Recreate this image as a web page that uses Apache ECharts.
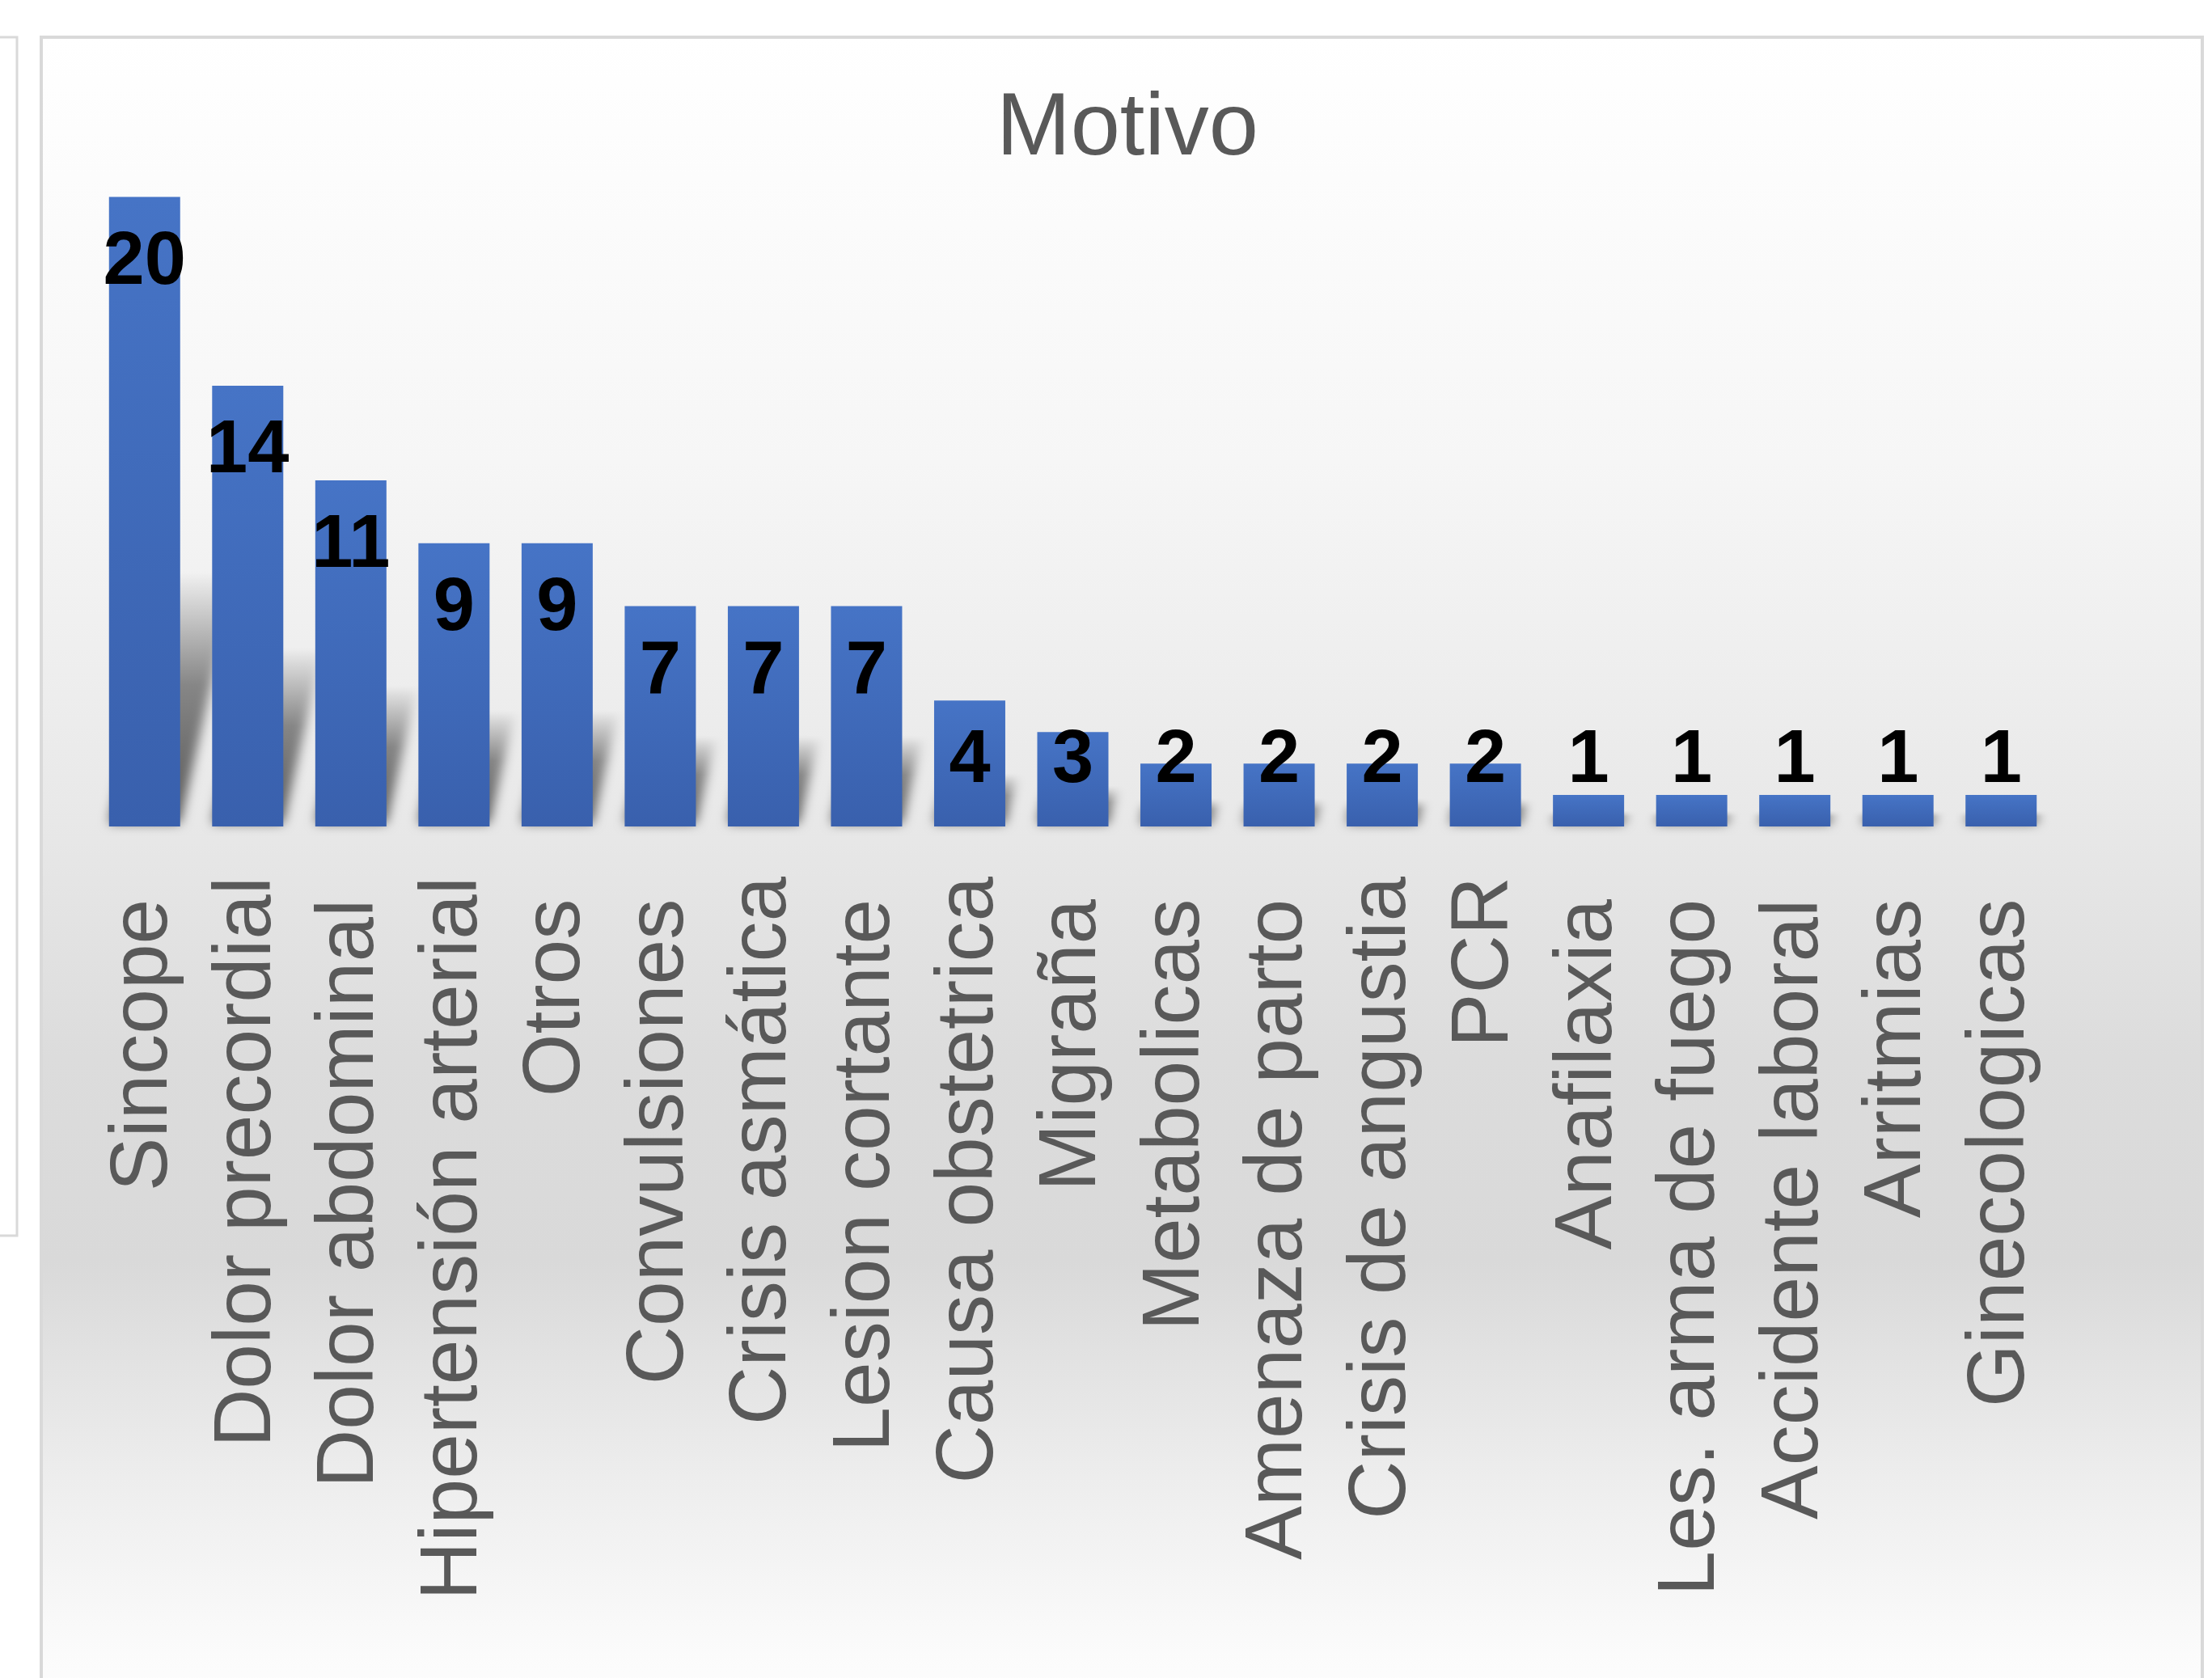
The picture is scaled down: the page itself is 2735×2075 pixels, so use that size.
<!DOCTYPE html>
<html>
<head>
<meta charset="utf-8">
<script src="https://cdn.jsdelivr.net/npm/echarts@6/dist/echarts.min.js"></script>
<style>
  html, body { margin: 0; padding: 0; background: #ffffff; }
  #chart { width: 2735px; height: 2075px; }
</style>
</head>
<body>
<div id="chart"></div>
<script>
// ---- Data ----
const chartTitle = "Motivo";
// Trailing spaces are kept as in the source categories (they shift the rotated labels).
const categories = [
  "Sincope ", "Dolor precordial", "Dolor abdominal ", "Hipertensión arterial", "Otros ",
  "Convulsiones ", "Crisis asmática", "Lesion cortante ", "Causa obstetrica", "Migraña ",
  "Metabolicas ", "Amenaza de parto ", "Crisis de angustia", "PCR", "Anafilaxia ",
  "Les. arma de fuego ", "Accidente laboral ", "Arritmias ", "Ginecologicas "
];
const counts = [20, 14, 11, 9, 9, 7, 7, 7, 4, 3, 2, 2, 2, 2, 1, 1, 1, 1, 1];
const yMin = 0;
const yMax = 20;

// ---- Styles ----
const textFont = "'Liberation Sans', Arial, sans-serif";
const barGradient = new echarts.graphic.LinearGradient(0, 0, 0, 1, [
  { offset: 0, color: '#4674c6' },
  { offset: 1, color: '#3960ad' }
]);
const panelGradient = new echarts.graphic.LinearGradient(0, 0, 0, 1, [
  { offset: 0.00, color: '#ffffff' },
  { offset: 0.25, color: '#f6f6f6' },
  { offset: 0.45, color: '#e9e9e9' },
  { offset: 0.60, color: '#dcdcdc' },
  { offset: 0.72, color: '#d9d9d9' },
  { offset: 0.84, color: '#ececec' },
  { offset: 0.95, color: '#fbfbfb' },
  { offset: 1.00, color: '#ffffff' }
]);
const SHADOW_SHIFT = 4000;

const barData = counts.map(v => (
  v <= 4
    ? { value: v, label: { position: 'insideBottom', distance: 34 } }
    : { value: v }
));
const shadowData = counts.map((v, i) => [i, v]);

const chart = echarts.init(document.getElementById('chart'), null, { renderer: 'canvas' });

chart.setOption({
  animation: false,
  backgroundColor: '#ffffff',
  graphic: [
    {
      type: 'rect', z: -10,
      shape: { x: -10, y: 46, width: 31, height: 1482 },
      style: { fill: '#ffffff', stroke: '#d9d9d9', lineWidth: 3 }
    },
    {
      type: 'rect', z: -10,
      shape: { x: 51, y: 46, width: 2672, height: 2100 },
      style: { fill: panelGradient, stroke: '#d9d9d9', lineWidth: 4 }
    }
  ],
  title: {
    text: chartTitle,
    left: 1389,
    top: 101,
    textAlign: 'center',
    textStyle: {
      fontFamily: textFont,
      fontWeight: 'normal',
      fontSize: 110,
      lineHeight: 110,
      color: '#595959'
    }
  },
  grid: { left: 115, right: 197, top: 243.6, bottom: 1053, containLabel: false },
  xAxis: {
    type: 'category',
    data: categories,
    axisLine: { show: false },
    axisTick: { show: false },
    splitLine: { show: false },
    axisLabel: {
      interval: 0,
      rotate: 90,
      margin: 62,
      padding: [12, 0, 0, 0],
      fontFamily: textFont,
      fontSize: 100,
      color: '#595959'
    }
  },
  yAxis: {
    type: 'value',
    min: yMin,
    max: yMax,
    show: false,
    splitLine: { show: false }
  },
  series: [
    {
      // soft skewed "floor" shadow behind each bar, derived from its value
      type: 'custom',
      z: 1,
      silent: true,
      clip: false,
      data: shadowData,
      renderItem: function (params, api) {
        const idx = api.value(0);
        const v = api.value(1);
        const base = api.coord([idx, 0]);
        const top = api.coord([idx, v]);
        const bw = api.size([1, 0])[0] * 0.69;
        const h = base[1] - top[1];
        const x0 = base[0] - bw / 2 - SHADOW_SHIFT;
        const x1 = base[0] + bw / 2 - SHADOW_SHIFT;
        const sh = 0.4 * h;
        const a = 0.09 * h;
        const y0 = base[1] - 4;
        return {
          type: 'polygon',
          shape: { points: [[x0, y0], [x1, y0], [x1 + a, y0 - sh], [x0 + a, y0 - sh]] },
          style: {
            fill: new echarts.graphic.LinearGradient(0, 1, 0, 0, [
              { offset: 0, color: 'rgba(0,0,0,1)' },
              { offset: 0.55, color: 'rgba(0,0,0,0.7)' },
              { offset: 1, color: 'rgba(0,0,0,0)' }
            ]),
            shadowBlur: 14,
            shadowColor: 'rgba(0,0,0,0.62)',
            shadowOffsetX: SHADOW_SHIFT,
            shadowOffsetY: 0
          }
        };
      }
    },
    {
      type: 'bar',
      z: 3,
      data: barData,
      barWidth: '69%',
      itemStyle: { color: barGradient },
      label: {
        show: true,
        position: 'insideTop',
        distance: 36,
        fontFamily: textFont,
        fontWeight: 'bold',
        fontSize: 92,
        lineHeight: 92,
        color: '#000000'
      }
    }
  ]
});
</script>
</body>
</html>
